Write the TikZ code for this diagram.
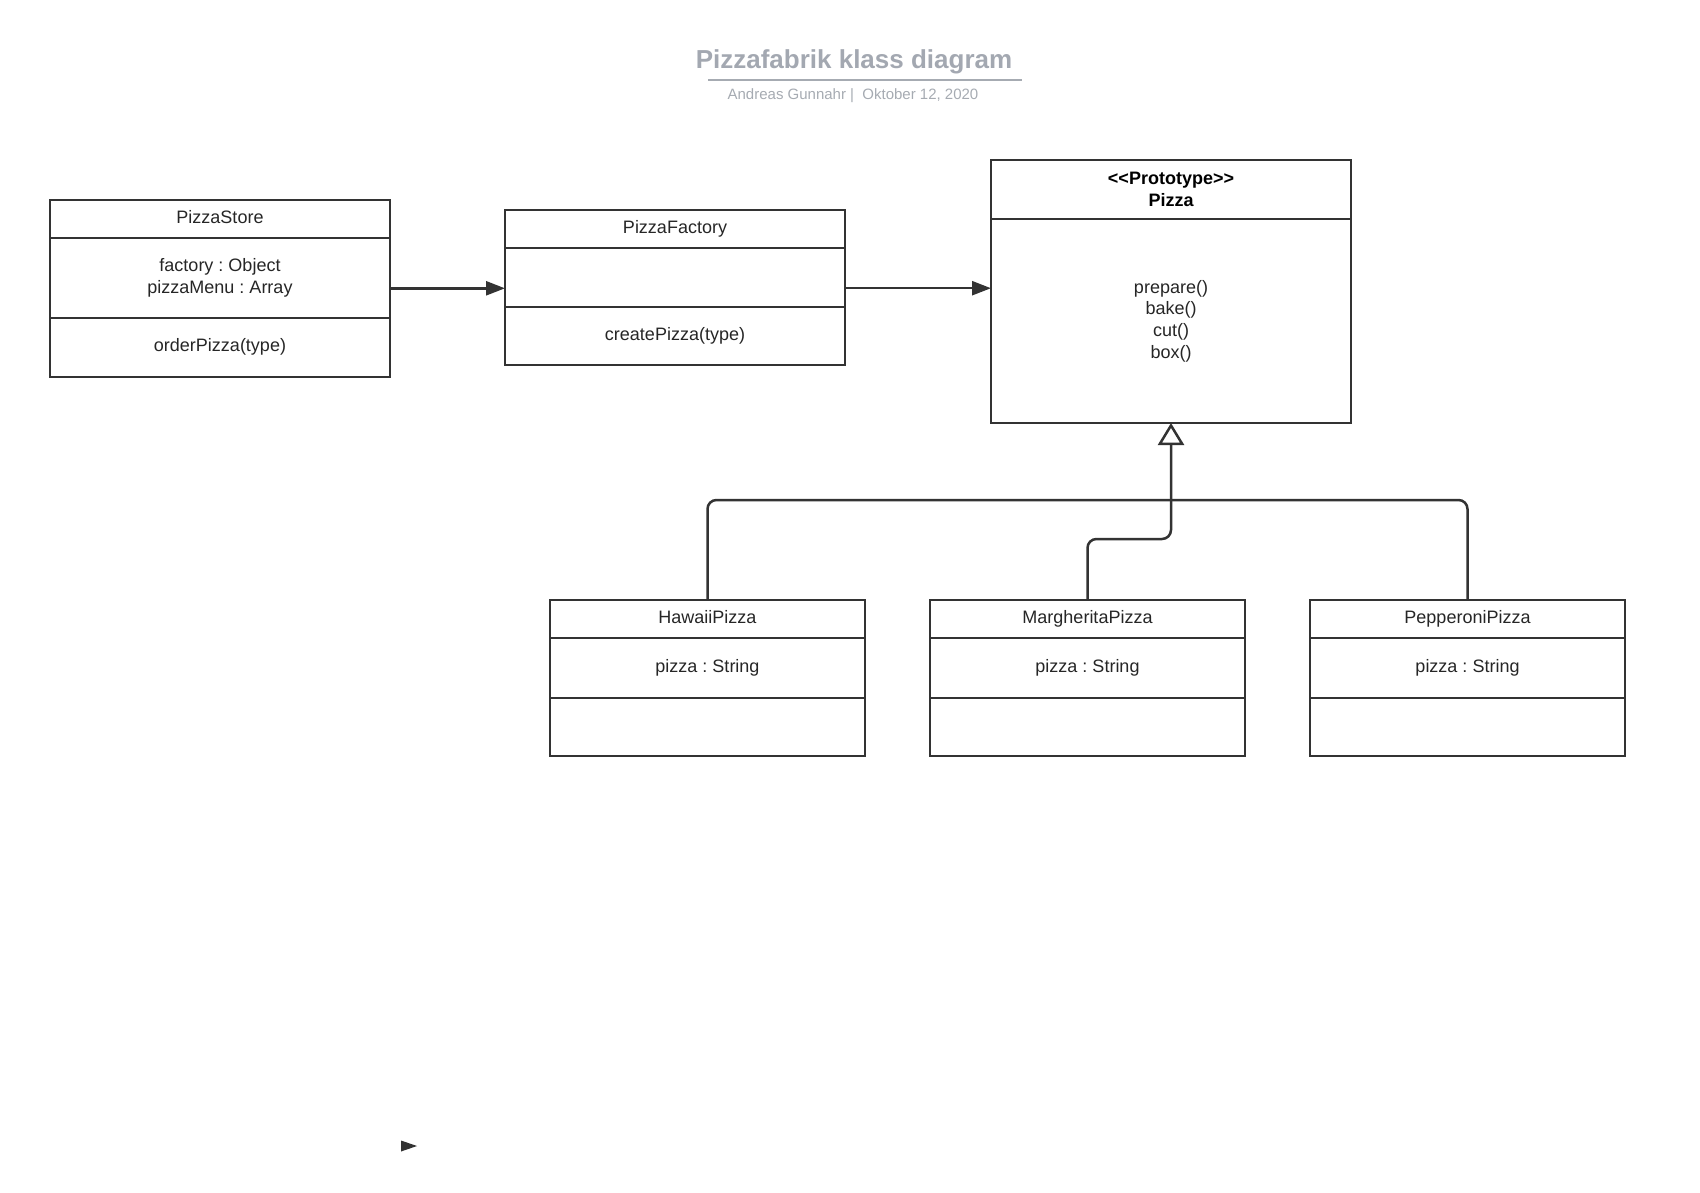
\documentclass[tikz,border=0pt]{standalone}
\usepackage{fontspec}
\setmainfont{Liberation Sans}
\usetikzlibrary{arrows.meta}
\frenchspacing
\definecolor{linec}{HTML}{333333}
\definecolor{textc}{HTML}{262626}
\definecolor{titlec}{HTML}{A3A8B1}
\definecolor{subc}{HTML}{A6ABB2}
\tikzset{
  cls/.style={draw=linec, line width=2pt, anchor=north west, inner sep=0pt,
    outer sep=0pt, align=center, text=textc,
    font=\fontsize{18}{21.7}\selectfont},
  clsname/.style={cls, text height=13.5pt, text depth=4pt},
  assoc/.style={draw=linec, line width=2.5pt,
    -{Triangle[length=19pt,width=14pt]}},
  genline/.style={draw=linec, line width=2.5pt, rounded corners=9pt},
  gentip/.style={genline, -{Triangle[open,length=22pt,width=26pt]}},
}
\begin{document}
\begin{tikzpicture}[x=1pt,y=1pt]
\useasboundingbox (0,0) rectangle (1700,-1192);

% heading
\node[text=titlec, font=\fontsize{26}{30}\bfseries] (title) at (854,-62) {Pizzafabrik klass diagram};
\draw[subc, line width=1.5pt] (708,-80) coordinate (ul) -- (1022,-80) coordinate (ur);
\node[text=subc, font=\fontsize{15}{18}\selectfont] (sub) at (853,-96) {Andreas Gunnahr |\ \ Oktober 12, 2020};

% PizzaStore
\node[clsname, minimum width=340pt, minimum height=37.7pt] (store) at (50,-200) {PizzaStore};
\node[cls, minimum width=340pt, minimum height=80pt] (store-a) at (store.south west) {factory : Object\\pizzaMenu : Array};
\node[cls, minimum width=340pt, minimum height=59pt] (store-m) at (store-a.south west) {orderPizza(type)};

% PizzaFactory
\node[clsname, minimum width=340pt, minimum height=37.7pt] (factory) at (505,-210) {PizzaFactory};
\node[cls, minimum width=340pt, minimum height=59pt] (factory-a) at (factory.south west) {};
\node[cls, minimum width=340pt, minimum height=58.3pt] (factory-m) at (factory-a.south west) {createPizza(type)};

% Pizza
\node[cls, minimum width=360pt, minimum height=59pt, text=black, font=\fontsize{18}{21.7}\bfseries] (pizza) at (991,-160) {<{}<Prototype>{}>\\Pizza};
\node[cls, minimum width=360pt, minimum height=204pt] (pizza-b) at (pizza.south west) {prepare()\\bake()\\cut()\\box()};

% subclasses
\node[clsname, minimum width=315pt, minimum height=37.7pt] (hawaii) at (550,-600) {HawaiiPizza};
\node[cls, minimum width=315pt, minimum height=60pt] (hawaii-a) at (hawaii.south west) {pizza : String};
\node[cls, minimum width=315pt, minimum height=58.3pt] (hawaii-m) at (hawaii-a.south west) {};

\node[clsname, minimum width=315pt, minimum height=37.7pt] (marg) at (930,-600) {MargheritaPizza};
\node[cls, minimum width=315pt, minimum height=60pt] (marg-a) at (marg.south west) {pizza : String};
\node[cls, minimum width=315pt, minimum height=58.3pt] (marg-m) at (marg-a.south west) {};

\node[clsname, minimum width=315pt, minimum height=37.7pt] (pep) at (1310,-600) {PepperoniPizza};
\node[cls, minimum width=315pt, minimum height=60pt] (pep-a) at (pep.south west) {pizza : String};
\node[cls, minimum width=315pt, minimum height=58.3pt] (pep-m) at (pep-a.south west) {};

% associations
\coordinate (sa) at ([yshift=-10.6pt]store-a.east);
\draw[assoc] (sa) -- (sa -| factory-a.west);
\coordinate (fa) at ([yshift=-11pt]factory-a.east);
\draw[assoc] (fa) -- (fa -| pizza-b.west);

% generalisation
\coordinate (jn) at ([yshift=-77pt]pizza-b.south);
\coordinate (mj) at ([yshift=-116pt]pizza-b.south);
\draw[genline] (hawaii.north) |- (jn);
\draw[genline] (pep.north) |- (jn);
\draw[gentip] (marg.north) |- (mj) -- (pizza-b.south);

% loose arrow tip
\fill[linec] (401,-1140.5) -- (417,-1146) -- (401,-1151.5) -- cycle;
\end{tikzpicture}
\end{document}
